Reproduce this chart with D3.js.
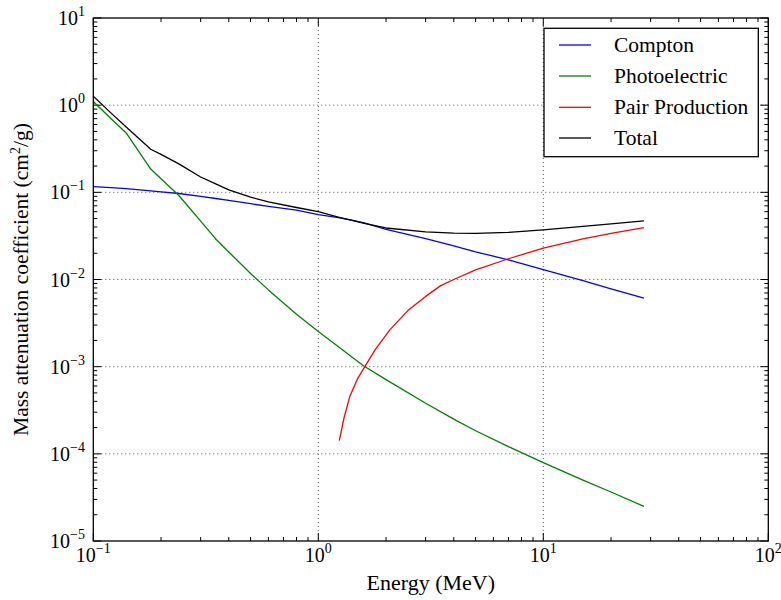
<!DOCTYPE html>
<html>
<head>
<meta charset="utf-8">
<script src="https://cdn.jsdelivr.net/npm/d3@7/dist/d3.min.js"></script>
<style>
  html, body { margin: 0; padding: 0; background: #fff; }
  svg { display: block; }
</style>
</head>
<body>
<svg id="chart" width="781" height="600"></svg>
<script>
// ---- data ----
const energy   = [0.1, 0.12, 0.14, 0.18, 0.2, 0.24, 0.3, 0.35, 0.4, 0.5, 0.6, 0.8, 1.0, 1.25, 1.4, 1.6, 2, 3, 4, 5, 7, 10, 15, 20, 28];
const compton  = [0.116, 0.113, 0.110, 0.104, 0.101, 0.097, 0.090, 0.085, 0.081, 0.074, 0.069, 0.0625, 0.0555, 0.051, 0.048, 0.0445, 0.0375, 0.0295, 0.0243, 0.0208, 0.0168, 0.013, 0.0097, 0.0078, 0.0061];
const photo    = [1.10, 0.70, 0.48, 0.185, 0.143, 0.092, 0.0467, 0.0292, 0.0207, 0.0117, 0.0076, 0.0040, 0.00253, 0.00164, 0.00131, 0.00101, 0.00071, 0.00038, 0.00025, 0.000184, 0.000121, 0.0000794, 0.000050, 0.0000365, 0.000025];
const total    = [1.27, 0.81, 0.562, 0.312, 0.272, 0.212, 0.150, 0.125, 0.1066, 0.088, 0.0776, 0.067, 0.060, 0.0514, 0.048, 0.044, 0.039, 0.0351, 0.034, 0.0338, 0.0347, 0.037, 0.0406, 0.0434, 0.047];
const pairEnergy = [1.24, 1.3, 1.38, 1.5, 1.61, 1.8, 2.08, 2.5, 3, 3.5, 4, 5, 7, 10, 15, 20, 28];
const pair       = [0.000142, 0.000256, 0.000454, 0.00074, 0.0010, 0.0016, 0.00264, 0.0044, 0.0064, 0.0085, 0.0100, 0.0129, 0.0173, 0.0229, 0.0292, 0.0338, 0.0394];

const seriesNames  = ["Compton", "Photoelectric", "Pair Production", "Total"];
const seriesColors = ["#0000ff", "#008000", "#ff0000", "#000000"];
const seriesData = [
  energy.map((e, j) => [e, compton[j]]),
  energy.map((e, j) => [e, photo[j]]),
  pairEnergy.map((e, j) => [e, pair[j]]),
  energy.map((e, j) => [e, total[j]])
];

const xTickValues = [0.1, 1, 10, 100];
const xTickExps   = ["\u22121", "0", "1", "2"];
const yTickValues = [1e-5, 1e-4, 1e-3, 1e-2, 1e-1, 1, 10];
const yTickExps   = ["\u22125", "\u22124", "\u22123", "\u22122", "\u22121", "0", "1"];

// ---- layout ----
const FONT = "Liberation Serif";
const L = 93.3, R = 768.3, T = 18, B = 541;
const svg = d3.select("#chart").attr("font-family", FONT);
const x = d3.scaleLog().domain([0.1, 100]).range([L, R]);
const y = d3.scaleLog().domain([1e-5, 10]).range([B, T]);

// grid
const grid = svg.append("g").attr("stroke", "#555").attr("stroke-width", 1).attr("stroke-dasharray", "1,3");
xTickValues.filter(v => v > 0.1 && v < 100).forEach(v => {
  grid.append("line").attr("x1", x(v)).attr("x2", x(v)).attr("y1", T).attr("y2", B);
});
yTickValues.filter(v => v > 1e-5 && v < 10).forEach(v => {
  grid.append("line").attr("y1", y(v)).attr("y2", y(v)).attr("x1", L).attr("x2", R);
});

// minor/major tick positions
function logTicks(lo, hi) {
  const out = [];
  for (let e = Math.round(Math.log10(lo)); e < Math.round(Math.log10(hi)); e++) {
    for (let m = 2; m <= 9; m++) out.push(m * Math.pow(10, e));
  }
  return out;
}
const ticks = svg.append("g").attr("stroke", "#000").attr("stroke-width", 1);
const MAJ = 8, MIN = 4;
logTicks(0.1, 100).forEach(v => {
  const px = x(v);
  ticks.append("line").attr("x1", px).attr("x2", px).attr("y1", B).attr("y2", B - MIN);
  ticks.append("line").attr("x1", px).attr("x2", px).attr("y1", T).attr("y2", T + MIN);
});
xTickValues.forEach(v => {
  const px = x(v);
  ticks.append("line").attr("x1", px).attr("x2", px).attr("y1", B).attr("y2", B - MAJ);
  ticks.append("line").attr("x1", px).attr("x2", px).attr("y1", T).attr("y2", T + MAJ);
});
logTicks(1e-5, 10).forEach(v => {
  const py = y(v);
  ticks.append("line").attr("y1", py).attr("y2", py).attr("x1", L).attr("x2", L + MIN);
  ticks.append("line").attr("y1", py).attr("y2", py).attr("x1", R).attr("x2", R - MIN);
});
yTickValues.forEach(v => {
  const py = y(v);
  ticks.append("line").attr("y1", py).attr("y2", py).attr("x1", L).attr("x2", L + MAJ);
  ticks.append("line").attr("y1", py).attr("y2", py).attr("x1", R).attr("x2", R - MAJ);
});

// data lines
const line = d3.line()
  .x(d => x(d[0]))
  .y(d => y(d[1]));
svg.append("clipPath").attr("id", "plotclip").append("rect")
  .attr("x", L).attr("y", T).attr("width", R - L).attr("height", B - T);
seriesData.forEach((d, i) => {
  svg.append("path")
    .datum(d)
    .attr("d", line)
    .attr("fill", "none")
    .attr("stroke", seriesColors[i])
    .attr("stroke-width", 1.3)
    .attr("stroke-linejoin", "round")
    .attr("clip-path", "url(#plotclip)");
});

// frame
svg.append("rect").attr("x", L).attr("y", T).attr("width", R - L).attr("height", B - T)
  .attr("fill", "none").attr("stroke", "#000").attr("stroke-width", 1.3);

// tick labels
const TF = 20, SF = 14;
xTickValues.forEach((v, i) => {
  const t = svg.append("text").attr("x", x(v)).attr("y", 562).attr("text-anchor", "middle")
    .attr("font-size", TF).attr("font-family", FONT);
  t.append("tspan").text("10");
  t.append("tspan").attr("font-size", SF).attr("dy", -9).text(xTickExps[i]);
});
yTickValues.forEach((v, i) => {
  const t = svg.append("text").attr("x", 85).attr("y", y(v) + 7).attr("text-anchor", "end")
    .attr("font-size", TF).attr("font-family", FONT);
  t.append("tspan").text("10");
  t.append("tspan").attr("font-size", SF).attr("dy", -9).text(yTickExps[i]);
});

// axis labels
svg.append("text").attr("x", (L + R) / 2).attr("y", 590).attr("text-anchor", "middle")
  .attr("font-size", 22).attr("font-family", FONT).text("Energy (MeV)");
const yl = svg.append("text").attr("transform", `translate(28,${(T + B) / 2}) rotate(-90)`)
  .attr("text-anchor", "middle").attr("font-size", 21.5).attr("font-family", FONT);
yl.append("tspan").text("Mass attenuation coefficient (cm");
yl.append("tspan").attr("font-size", 14).attr("dy", -8).text("2");
yl.append("tspan").attr("dy", 8).text("/g)");

// legend
const lg = svg.append("g");
lg.append("rect").attr("x", 544).attr("y", 28.3).attr("width", 214.3).attr("height", 128.4)
  .attr("fill", "#fff").attr("stroke", "#000").attr("stroke-width", 1.3);
const rowY = [45, 76, 107.3, 138];
seriesNames.forEach((name, i) => {
  lg.append("line").attr("x1", 559).attr("x2", 591).attr("y1", rowY[i]).attr("y2", rowY[i])
    .attr("stroke", seriesColors[i]).attr("stroke-width", 1.3);
  lg.append("text").attr("x", 614).attr("y", rowY[i] + 7).attr("font-size", 21.5)
    .attr("font-family", FONT).text(name);
});
</script>
</body>
</html>
